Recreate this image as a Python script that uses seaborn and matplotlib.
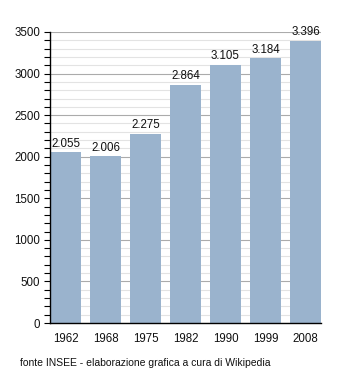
import numpy as np
import pandas as pd
import seaborn as sns
import matplotlib.pyplot as plt
from matplotlib.ticker import MultipleLocator

# ================= Data ================= #
years = ["1962", "1968", "1975", "1982", "1990", "1999", "2008"]
population = [2055, 2006, 2275, 2864, 3105, 3184, 3396]
labels = ["2.055", "2.006", "2.275", "2.864", "3.105", "3.184", "3.396"]

df = pd.DataFrame({"anno": years, "abitanti": population})

# ================= Style ================= #
sns.set_style("white")
plt.rcParams['font.family'] = ['Liberation Sans', 'DejaVu Sans']
plt.rcParams.update({'font.size': 8.3})

fig = plt.figure(figsize=(3.5, 3.73), dpi=100)
ax = fig.add_axes([50/350, 1-323/373, 271/350, 291/373])

bar_w = 0.775
sns.barplot(data=df, x="anno", y="abitanti", color="#9AB3CD", saturation=1,
            width=bar_w, ax=ax)
for p in ax.patches:
    p.set_zorder(3)
    p.set_linewidth(0)

# Grid: light every 100, darker every 500
ax.yaxis.set_major_locator(MultipleLocator(500))
ax.yaxis.set_minor_locator(MultipleLocator(100))
ax.grid(which='minor', axis='y', color='#E3E3E3', linewidth=0.8, zorder=0)
ax.grid(which='major', axis='y', color='#ABABAB', linewidth=0.8, zorder=1)
ax.set_axisbelow(True)

ax.set_ylim(0, 3500)
ax.set_xlim(-bar_w/2, 6 + bar_w/2)

for i, (v, t) in enumerate(zip(population, labels)):
    ax.text(i, v + 30, t, ha='center', va='bottom', fontsize=8.3,
            color='#111111', zorder=4)

for s in ['top', 'right']:
    ax.spines[s].set_visible(False)
for s in ['left', 'bottom']:
    ax.spines[s].set_color('black')
    ax.spines[s].set_linewidth(1.0)
    ax.spines[s].set_zorder(5)

ax.tick_params(axis='y', which='both', direction='out', left=True, length=4,
               width=0.8, color='black', labelsize=8.3, labelcolor='#111111', pad=3)
ax.tick_params(axis='x', bottom=False, labelsize=8.3, labelcolor='#111111', pad=4)
ax.set_xlabel("")
ax.set_ylabel("")

fig.text(20/350, 1-363/373, "fonte INSEE - elaborazione grafica a cura di Wikipedia",
         fontsize=7.5, va='center', ha='left', color='#111111')

fig.savefig("out.png", dpi=100)
